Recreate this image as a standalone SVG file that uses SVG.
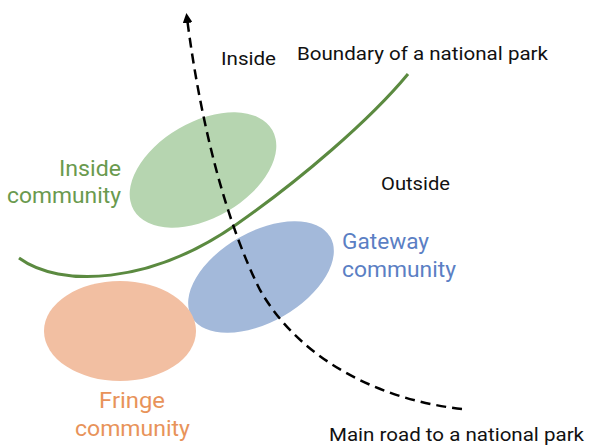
<svg xmlns="http://www.w3.org/2000/svg" width="589" height="448" viewBox="0 0 589 448">
<style>
text{font-family:"Roboto","Liberation Sans",sans-serif}
.blk{fill:#111;font-size:19px}
.lbl{font-size:22px}
</style>
<defs>
<marker id="ah" viewBox="0 0 10 10" refX="5" refY="5" markerWidth="4" markerHeight="4" orient="auto"><path d="M0,0 L10,5 L0,10 z" fill="#000"/></marker>
</defs>
<rect width="589" height="448" fill="#fff"/>
<g id="inside-community">
<ellipse cx="203" cy="170" rx="80" ry="48" transform="rotate(-30 203 170)" fill="#b6d5b0"/>
<text class="lbl" x="59" y="176" textLength="62" lengthAdjust="spacingAndGlyphs" fill="#6a9a4e">Inside</text>
<text class="lbl" x="7" y="203" textLength="114" lengthAdjust="spacingAndGlyphs" fill="#6a9a4e">community</text>
</g>
<g id="gateway-community">
<ellipse cx="261" cy="277" rx="80" ry="45" transform="rotate(-30 261 277)" fill="#a3b9da"/>
<text class="lbl" x="342" y="249" textLength="87" lengthAdjust="spacingAndGlyphs" fill="#5b7fc4">Gateway</text>
<text class="lbl" x="342" y="277" textLength="114" lengthAdjust="spacingAndGlyphs" fill="#5b7fc4">community</text>
</g>
<g id="fringe-community">
<ellipse cx="120" cy="331" rx="76" ry="50" fill="#f2bfa2"/>
<text class="lbl" x="99" y="408" textLength="66" lengthAdjust="spacingAndGlyphs" fill="#e8935a">Fringe</text>
<text class="lbl" x="75" y="436" textLength="115" lengthAdjust="spacingAndGlyphs" fill="#e8935a">community</text>
</g>
<g id="connectors">
<path id="boundary" d="M19,258 C60,288 150,285 237,224 C300,180 370,120 408,74" fill="none" stroke="#5b8a40" stroke-width="3"/>
<path id="road" d="M462,409 C380,400 300,360 260,290 C225,220 200,120 187,18" fill="none" stroke="#000" stroke-width="2.5" stroke-dasharray="10,6" marker-end="url(#ah)"/>
</g>
<g id="labels">
<text class="blk" x="221" y="65" textLength="55" lengthAdjust="spacingAndGlyphs">Inside</text>
<text class="blk" x="297" y="60" textLength="251" lengthAdjust="spacingAndGlyphs">Boundary of a national park</text>
<text class="blk" x="381" y="190" textLength="69" lengthAdjust="spacingAndGlyphs">Outside</text>
<text class="blk" x="329" y="441" textLength="255" lengthAdjust="spacingAndGlyphs">Main road to a national park</text>
</g>
</svg>
